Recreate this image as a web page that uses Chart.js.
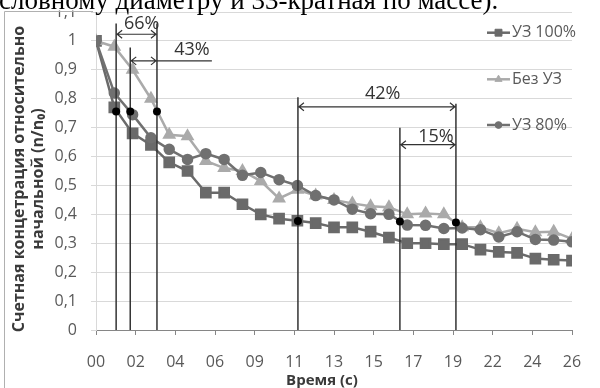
<!DOCTYPE html>
<html>
<head>
<meta charset="utf-8">
<script src="https://cdn.jsdelivr.net/npm/chart.js@4.4.0/dist/chart.umd.min.js"></script>
<style>
  body { margin: 0; background: #fff; }
  canvas { display: block; }
</style>
</head>
<body>
<canvas id="grafico" width="600" height="388"></canvas>
<script>
//DADOS DO GRAFICO
const tempo = [0, 1, 2, 3, 4, 5, 6, 7, 8, 9, 10, 11, 12, 13, 14, 15, 16, 17, 18, 19, 20, 21, 22, 23, 24, 25, 26];
const uz100 = [1.0, 0.77, 0.68, 0.64, 0.58, 0.55, 0.475, 0.475, 0.435, 0.40, 0.385, 0.378, 0.37, 0.355, 0.355, 0.34, 0.32, 0.30, 0.30, 0.297, 0.297, 0.278, 0.27, 0.267, 0.247, 0.243, 0.24];
const semUz = [1.0, 0.98, 0.90, 0.80, 0.675, 0.67, 0.585, 0.56, 0.55, 0.515, 0.455, 0.485, 0.465, 0.45, 0.438, 0.428, 0.425, 0.40, 0.403, 0.40, 0.355, 0.355, 0.335, 0.35, 0.338, 0.34, 0.315];
const uz80 = [1.0, 0.82, 0.745, 0.665, 0.625, 0.59, 0.61, 0.59, 0.535, 0.545, 0.52, 0.50, 0.465, 0.45, 0.418, 0.402, 0.40, 0.363, 0.362, 0.351, 0.353, 0.347, 0.322, 0.34, 0.313, 0.311, 0.305];
const nomes = ['УЗ 100%', 'Без УЗ', 'УЗ 80%'];
const xTickLabels = ['00', '02', '04', '06', '09', '11', '13', '15', '17', '19', '22', '24', '26'];

//linhas verticais de referencia (tempo, topo, ponto preto)
const linhasT = [1.1, 1.87, 3.33, 11.03, 16.6, 19.66];
const linhasTopo = [1.06, 0.977, 1.06, 0.805, 0.70, 0.783];
const pontosV = [0.756, 0.756, 0.756, 0.377, 0.375, 0.372];
//setas com porcentagem
const setasDe = [1.1, 1.87, 11.03, 16.6];
const setasAte = [3.33, 3.33, 19.66, 19.66];
const setasFim = [3.33, 6.33, 19.66, 19.66];
const setasV = [1.023, 0.931, 0.772, 0.641];
const setasTexto = ['66%', '43%', '42%', '15%'];
const textoT = [2.5, 5.24, 15.66, 18.57];
const textoV = [1.06, 0.969, 0.818, 0.669];

const cinza = '#595959';

//Plugin para as setas, legenda e titulos
const extras = {
  id: 'extras',
  afterDatasetsDraw(chart) {
    const { ctx, scales: { x, y } } = chart;
    ctx.save();
    ctx.strokeStyle = '#333333';
    ctx.lineWidth = 1.5;
    linhasT.forEach((t, i) => {
      const px = x.getPixelForValue(t);
      ctx.beginPath();
      ctx.moveTo(px, y.getPixelForValue(linhasTopo[i]));
      ctx.lineTo(px, y.getPixelForValue(0));
      ctx.stroke();
    });
    ctx.lineWidth = 1.2;
    setasDe.forEach((t0, i) => {
      const a = x.getPixelForValue(t0);
      const b = x.getPixelForValue(setasAte[i]);
      const c = x.getPixelForValue(setasFim[i]);
      const py = y.getPixelForValue(setasV[i]);
      ctx.beginPath();
      ctx.moveTo(a, py); ctx.lineTo(c, py);
      ctx.moveTo(a + 6, py - 4); ctx.lineTo(a + 1, py); ctx.lineTo(a + 6, py + 4);
      ctx.moveTo(b - 6, py - 4); ctx.lineTo(b - 1, py); ctx.lineTo(b - 6, py + 4);
      ctx.stroke();
    });
    //pontos pretos
    ctx.fillStyle = '#000';
    linhasT.forEach((t, i) => {
      ctx.beginPath();
      ctx.arc(x.getPixelForValue(t), y.getPixelForValue(pontosV[i]), 4, 0, Math.PI * 2);
      ctx.fill();
    });
    //textos das porcentagens
    ctx.fillStyle = '#333333';
    ctx.font = '18px "Open Sans"';
    ctx.textAlign = 'center';
    ctx.textBaseline = 'middle';
    setasTexto.forEach((s, i) => {
      ctx.fillText(s, x.getPixelForValue(textoT[i]), y.getPixelForValue(textoV[i]));
    });
    ctx.restore();
  },
  afterDraw(chart) {
    const { ctx } = chart;
    ctx.save();
    //legenda
    const legY = [32.7, 79.3, 125];
    chart.data.datasets.forEach((ds, i) => {
      ctx.strokeStyle = ds.borderColor;
      ctx.fillStyle = ds.backgroundColor;
      ctx.lineWidth = 2.5;
      ctx.beginPath();
      ctx.moveTo(487, legY[i]); ctx.lineTo(510, legY[i]);
      ctx.stroke();
      ctx.lineWidth = 1;
      if (Chart.helpers && Chart.helpers.drawPoint) {
        Chart.helpers.drawPoint(ctx, { pointStyle: ds.pointStyle, radius: ds.pointRadius * 0.75, rotation: 0, borderWidth: 1 }, 498.5, legY[i]);
      }
      ctx.fillStyle = cinza;
      ctx.font = '16px "Open Sans"';
      ctx.textAlign = 'left';
      ctx.textBaseline = 'middle';
      ctx.fillText(ds.label, 512, legY[i]);
    });
    //titulos dos eixos
    ctx.fillStyle = '#3a3a3a';
    ctx.font = 'bold 15px "Open Sans"';
    ctx.textAlign = 'center';
    ctx.textBaseline = 'middle';
    ctx.fillText('Время (с)', 322, 381);
    ctx.save();
    ctx.translate(19, 179);
    ctx.rotate(-Math.PI / 2);
    ctx.font = 'bold 16px "Open Sans"';
    ctx.fillText('Счетная концетрация относительно', 0, 0);
    ctx.fillText('начальной (n/n₀)', 0, 19);
    ctx.restore();
    //moldura esquerda
    ctx.strokeStyle = '#b0b0b0';
    ctx.lineWidth = 1;
    ctx.beginPath();
    ctx.moveTo(4.5, 388); ctx.lineTo(4.5, 11.5); ctx.lineTo(93, 11.5);
    ctx.stroke();
    //texto do documento por cima
    ctx.fillStyle = '#fff';
    ctx.fillRect(0, 0, 600, 10.5);
    ctx.fillStyle = '#000';
    ctx.font = '27px "Liberation Serif"';
    ctx.textAlign = 'left';
    ctx.textBaseline = 'alphabetic';
    ctx.fillText('словному диаметру и 33-кратная по массе).', -1, 9);
    ctx.restore();
  }
};

//GRÁFICO CHART.JS
const ctx = document.getElementById('grafico').getContext('2d');
const chart = new Chart(ctx, {
  type: 'line',
  data: {
    datasets: [{
      label: nomes[0],
      data: tempo.map((t, i) => ({ x: t, y: uz100[i] })),
      borderColor: '#6a6a6a',
      backgroundColor: '#6a6a6a',
      pointStyle: 'rect',
      pointRadius: 6.5,
      borderWidth: 2.5,
      order: 3
    }, {
      label: nomes[1],
      data: tempo.map((t, i) => ({ x: t, y: semUz[i] })),
      borderColor: '#aaaaaa',
      backgroundColor: '#aaaaaa',
      pointStyle: 'triangle',
      pointRadius: 5.5,
      borderWidth: 2.5,
      order: 2
    }, {
      label: nomes[2],
      data: tempo.map((t, i) => ({ x: t, y: uz80[i] })),
      borderColor: '#707070',
      backgroundColor: '#707070',
      pointStyle: 'circle',
      pointRadius: 4.5,
      borderWidth: 2.5,
      order: 1
    }]
  },
  options: {
    responsive: false,
    animation: false,
    layout: { padding: { top: 12, right: 28, left: 0, bottom: 0 } },
    plugins: {
      legend: { display: false },
      tooltip: { enabled: false }
    },
    scales: {
      x: {
        type: 'linear',
        min: 0,
        max: 26,
        afterFit(scale) {
          scale.height = 58;
          scale.paddingLeft = 0;
          scale.paddingRight = 0;
        },
        afterBuildTicks(scale) {
          scale.ticks = xTickLabels.map((l, i) => ({ value: i * 26 / 12 }));
        },
        grid: {
          display: true,
          drawOnChartArea: false,
          drawTicks: true,
          tickLength: 5,
          color: '#868686'
        },
        border: { display: true, color: '#868686' },
        ticks: {
          autoSkip: false,
          maxRotation: 0,
          padding: 18,
          color: cinza,
          font: { family: 'Open Sans', size: 16 },
          callback: (v, i) => xTickLabels[i]
        }
      },
      y: {
        min: 0,
        max: 1.1,
        afterFit(scale) {
          scale.width = 96;
          scale.paddingTop = 0;
          scale.paddingBottom = 0;
        },
        grid: {
          color: '#d9d9d9',
          drawTicks: true,
          tickLength: 5
        },
        border: { display: true, color: '#d9d9d9' },
        ticks: {
          stepSize: 0.1,
          padding: 14,
          color: cinza,
          font: { family: 'Open Sans', size: 16 },
          callback: v => String(Math.round(v * 10) / 10).replace('.', ',')
        }
      }
    }
  },
  plugins: [extras]
});
</script>
</body>
</html>
